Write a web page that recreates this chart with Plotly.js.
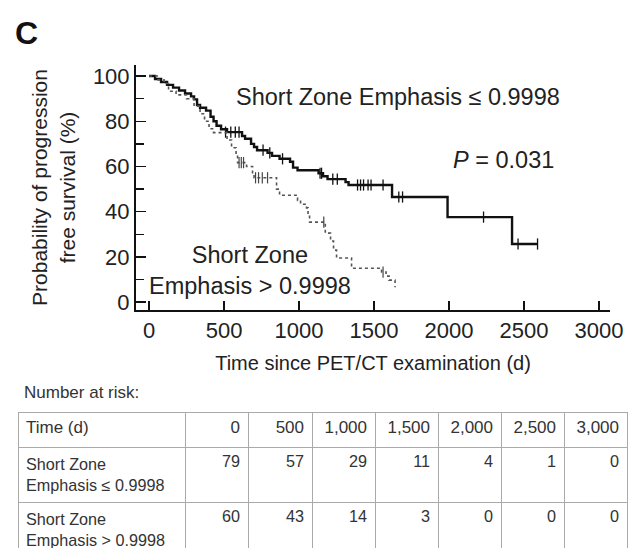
<!DOCTYPE html>
<html>
<head>
<meta charset="utf-8">
<script src="https://cdn.plot.ly/plotly-3.0.1.min.js"></script>
<style>html,body{margin:0;padding:0;background:#fff;}#chart{width:628px;height:548px;}</style>
</head>
<body>
<div id="chart"></div>
<script>
// Kaplan-Meier curve: Short Zone Emphasis <= 0.9998 (solid)
const lowTime = [0, 40, 80, 120, 160, 200, 240, 280, 300, 320, 340, 380, 410, 430, 450, 480, 520, 620, 640, 680, 700, 720, 790, 820, 870, 940, 960, 990, 1130, 1160, 1190, 1310, 1330, 1620, 1990, 2420, 2590];
const lowSurv = [100, 98.7, 97.4, 96.1, 94.9, 93.6, 92.3, 91.0, 89.7, 87.2, 86.0, 84.7, 82.0, 80.0, 78.0, 76.5, 75.2, 73.5, 72.3, 70.0, 68.6, 67.2, 66.0, 64.7, 63.4, 62.1, 59.5, 58.3, 57.0, 55.7, 54.4, 53.1, 51.8, 46.5, 37.6, 25.7, 25.7];
const lowCensTime = [510, 545, 575, 600, 760, 805, 890, 1140, 1150, 1225, 1255, 1390, 1410, 1430, 1460, 1480, 1560, 1665, 1690, 2230, 2460, 2590];
const lowCensSurv = [75.2, 75.2, 75.2, 75.2, 67.2, 66.0, 63.4, 57.0, 57.0, 54.4, 54.4, 51.8, 51.8, 51.8, 51.8, 51.8, 51.8, 46.5, 46.5, 37.6, 25.7, 25.7];

// Kaplan-Meier curve: Short Zone Emphasis > 0.9998 (dashed)
const highTime = [0, 60, 100, 130, 180, 250, 300, 340, 370, 400, 430, 520, 550, 580, 590, 650, 690, 700, 850, 870, 990, 1010, 1050, 1060, 1070, 1175, 1210, 1230, 1250, 1350, 1550, 1580, 1600, 1640];
const highSurv = [100, 98.3, 96.7, 93.3, 91.7, 90.0, 86.7, 83.3, 80.0, 76.7, 75.0, 71.7, 68.3, 65.0, 61.7, 60.0, 56.7, 55.0, 50.0, 47.3, 45.0, 43.3, 41.7, 38.3, 35.4, 30.5, 27.0, 23.0, 19.5, 15.0, 13.3, 11.5, 9.7, 6.6];
const highCensTime = [600, 615, 630, 710, 730, 755, 790, 1165, 1560];
const highCensSurv = [61.7, 61.7, 61.7, 55.0, 55.0, 55.0, 55.0, 35.4, 13.3];

// Number at risk table
const riskHeader = ["Time (d)", "0", "500", "1,000", "1,500", "2,000", "2,500", "3,000"];
const riskGroups = ["Short Zone<br>Emphasis ≤ 0.9998", "Short Zone<br>Emphasis > 0.9998"];
const riskLow = [79, 57, 29, 11, 4, 1, 0];
const riskHigh = [60, 43, 14, 3, 0, 0, 0];

const FONT = "Liberation Sans, Arial, Helvetica, sans-serif";
const TXT = "#222";

const tableCells = [riskGroups];
for (let i = 0; i < riskLow.length; i++) tableCells.push([String(riskLow[i]), String(riskHigh[i])]);

const traces = [
  {type: "scatter", mode: "lines", x: lowTime, y: lowSurv, line: {shape: "hv", color: "#111", width: 2.4}, showlegend: false, hoverinfo: "skip"},
  {type: "scatter", mode: "markers", x: lowCensTime, y: lowCensSurv, marker: {symbol: "line-ns-open", size: 8, color: "#111", line: {color: "#111", width: 1.3}}, showlegend: false, hoverinfo: "skip"},
  {type: "scatter", mode: "lines", x: highTime, y: highSurv, line: {shape: "hv", color: "#555", width: 1.6, dash: "3px,3px"}, showlegend: false, hoverinfo: "skip"},
  {type: "scatter", mode: "markers", x: highCensTime, y: highCensSurv, marker: {symbol: "line-ns-open", size: 8, color: "#444", line: {color: "#444", width: 1.2}}, showlegend: false, hoverinfo: "skip"},
  {type: "table",
   domain: {x: [18/628, 627/628], y: [0, 1 - 412/548]},
   columnwidth: [167, 63, 64, 63, 63, 63, 63, 63],
   header: {values: riskHeader, align: ["left", "right"], height: 35,
            font: {family: FONT, size: 17, color: "#333"}, fill: {color: "#fff"}, line: {color: "#aaa", width: 1}},
   cells: {values: tableCells, align: ["left", "right"], height: 52,
           font: {family: FONT, size: 16.2, color: "#333"}, fill: {color: "#fff"}, line: {color: "#aaa", width: 1}}
  }
];

const layout = {
  width: 628, height: 548,
  margin: {l: 0, r: 0, t: 0, b: 0},
  paper_bgcolor: "#fff", plot_bgcolor: "#fff",
  font: {family: FONT, color: TXT},
  showlegend: false,
  xaxis: {
    domain: [136/628, 610/628], range: [-87, 3073],
    tickvals: [0, 500, 1000, 1500, 2000, 2500, 3000],
    ticks: "inside", ticklen: 9, tickwidth: 1.5, tickcolor: "#111",
    showline: true, linecolor: "#111", linewidth: 2, showgrid: false, zeroline: false,
    tickfont: {size: 22, color: TXT, family: FONT},
    title: {text: "Time since PET/CT examination (d)", font: {size: 20, color: TXT, family: FONT}, standoff: 14},
    automargin: false
  },
  yaxis: {
    domain: [1 - 310/548, 1 - 65/548], range: [-3.5, 104.9],
    tickvals: [0, 20, 40, 60, 80, 100],
    ticks: "inside", ticklen: 10, tickwidth: 1.5, tickcolor: "#111",
    minor: {tickvals: [10, 30, 50, 70, 90], ticks: "inside", ticklen: 8, tickwidth: 1.5, tickcolor: "#111"},
    showline: true, linecolor: "#111", linewidth: 2, showgrid: false, zeroline: false,
    tickfont: {size: 22, color: TXT, family: FONT},
    title: {text: "Probability of progression<br>free survival (%)", font: {size: 21, color: TXT, family: FONT}, standoff: 12},
    automargin: false
  },
  annotations: [
    {xref: "paper", yref: "paper", x: 26/628, y: 1 - 33/548, text: "<b>C</b>", showarrow: false, xanchor: "center", yanchor: "middle", font: {size: 32, color: "#111", family: FONT}},
    {xref: "x", yref: "y", x: 1660, y: 90.7, text: "Short Zone Emphasis ≤ 0.9998", showarrow: false, xanchor: "center", yanchor: "middle", font: {size: 23.5, color: TXT, family: FONT}},
    {xref: "x", yref: "y", x: 2360, y: 62.8, text: "<i>P</i> = 0.031", showarrow: false, xanchor: "center", yanchor: "middle", font: {size: 23.5, color: TXT, family: FONT}},
    {xref: "x", yref: "y", x: 673, y: 14, text: "Short Zone<br>Emphasis > 0.9998", showarrow: false, xanchor: "center", yanchor: "middle", align: "center", font: {size: 23.5, color: TXT, family: FONT}},
    {xref: "paper", yref: "paper", x: 22/628, y: 1 - 392/548, text: "Number at risk:", showarrow: false, xanchor: "left", yanchor: "middle", font: {size: 17, color: "#333", family: FONT}}
  ]
};

Plotly.newPlot("chart", traces, layout, {displayModeBar: false, staticPlot: true});
</script>
</body>
</html>
